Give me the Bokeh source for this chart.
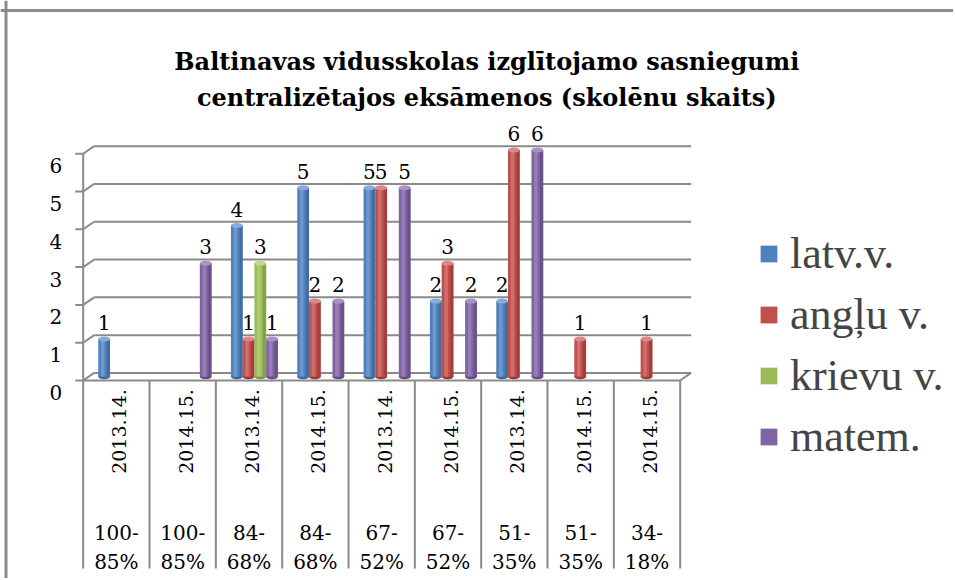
import math
from bokeh.plotting import figure
from bokeh.models import Range1d, ColumnDataSource, Legend, LegendItem, Span
from bokeh.core.properties import value
from bokeh.embed import file_html
from bokeh.resources import INLINE

# ---------------- data ----------------
title_lines = ["Baltinavas vidusskolas izglītojamo  sasniegumi",
               "centralizētajos  eksāmenos (skolēnu skaits)"]
years = ["2013.14.", "2014.15.", "2013.14.", "2014.15.", "2013.14.",
         "2014.15.", "2013.14.", "2014.15.", "2014.15."]
ranges = ["100-85%", "100-85%", "84-68%", "84-68%", "67-52%",
          "67-52%", "51-35%", "51-35%", "34-18%"]
series_names = ["latv.v.", "angļu v.", "krievu v.", "matem."]
latv = [1, 0, 4, 5, 5, 2, 2, 0, 0]
anglu = [0, 0, 1, 2, 5, 3, 6, 1, 1]
krievu = [0, 0, 3, 0, 0, 0, 0, 0, 0]
matem = [0, 3, 1, 2, 5, 2, 6, 0, 0]
y_ticks = [0, 1, 2, 3, 4, 5, 6]

series_values = [latv, anglu, krievu, matem]
base_colors = ["#4F81BD", "#C0504D", "#9BBB59", "#8064A2"]
light_colors = ["#86ACDB", "#DB8886", "#C0D78F", "#A892C4"]
dark_colors = ["#3B6699", "#9A3836", "#7A9840", "#62497F"]

# ---------------- geometry (style) ----------------
W, H = 953, 578
CAT_PX, UNIT_PX = 66.33, 37.8
X0_PAGE, Y0_PAGE = 82.7, 380.0


def dx(page_x):
    return (page_x - X0_PAGE) / CAT_PX


def dy(page_y):
    return (Y0_PAGE - page_y) / UNIT_PX


n = len(years)
ymax = max(y_ticks)
BAR_W = 0.177
BAR_DX = 0.081
BAR_DY = 0.10
DEPTH_X = 0.165
DEPTH_Y = 0.20
TICK = 0.12
SEP_BOTTOM = dy(568)
GRID = "#8A8A8A"
GLYPH_FONT = "DejaVu Serif"
LEGEND_FONT = "Liberation Serif"
LABEL_SIZE = "20px"

p = figure(width=W, height=H,
           x_range=Range1d(dx(0), dx(W)), y_range=Range1d(dy(H), dy(0)),
           x_axis_type=None, y_axis_type=None,
           output_backend="svg", toolbar_location=None, min_border=0)
p.grid.visible = False
p.outline_line_color = None

# outer chart border (top and left visible)
p.add_layout(Span(location=dy(10), dimension="width", line_color="#8C8C8C", line_width=3))
p.add_layout(Span(location=dx(5.5), dimension="height", line_color="#8C8C8C", line_width=3))

# ---------------- walls, grid, axis ----------------
gx, gy = [], []
for t in y_ticks:
    gx.append([DEPTH_X, n + DEPTH_X]); gy.append([t + DEPTH_Y, t + DEPTH_Y])   # back grid line
    gx.append([0, DEPTH_X]); gy.append([t, t + DEPTH_Y])                        # side diagonal
    gx.append([-TICK, 0]); gy.append([t, t])                                     # tick mark
gx.append([0, 0]); gy.append([0, ymax])                                          # front value axis
gx.append([0, n]); gy.append([0, 0])                                             # front floor edge
gx.append([n, n + DEPTH_X]); gy.append([0, DEPTH_Y])                             # right floor diagonal
for i in range(n + 1):
    gx.append([i, i]); gy.append([0, SEP_BOTTOM])                                # category separators
p.multi_line(gx, gy, line_color=GRID, line_width=2)

# y tick labels
p.text(x=[0] * len(y_ticks), y=y_ticks, text=[str(t) for t in y_ticks],
       x_offset=-21, y_offset=12, text_align="right", text_baseline="alphabetic",
       text_font=value(GLYPH_FONT), text_font_size=LABEL_SIZE, text_color="black")

# ---------------- bars (cylinders) ----------------
legend_items = []
for k, (name, vals) in enumerate(zip(series_names, series_values)):
    xs = [i + 0.5 + (k - 1.5) * BAR_W + BAR_DX for i, v in enumerate(vals) if v > 0]
    vs = [v for v in vals if v > 0]
    src = ColumnDataSource(dict(x=xs, top=[v + BAR_DY for v in vs],
                                xl=[x - BAR_W * 0.12 for x in xs],
                                xr=[x + BAR_W * 0.36 for x in xs],
                                lab=[str(v) for v in vs]))
    p.ellipse(x="x", y=BAR_DY, width=BAR_W, height=5, height_units="screen", source=src,
              fill_color=dark_colors[k], line_color=None)
    r = p.vbar(x="x", width=BAR_W, bottom=BAR_DY, top="top", source=src,
               fill_color=base_colors[k], line_color=None)
    p.vbar(x="xl", width=BAR_W * 0.3, bottom=BAR_DY, top="top", source=src,
           fill_color=light_colors[k], line_color=None, fill_alpha=0.55)
    p.vbar(x="xr", width=BAR_W * 0.28, bottom=BAR_DY, top="top", source=src,
           fill_color=dark_colors[k], line_color=None, fill_alpha=0.7)
    p.ellipse(x="x", y="top", width=BAR_W, height=5, height_units="screen", source=src,
              fill_color=light_colors[k], line_color=None)
    p.text(x="x", y="top", text="lab", source=src, y_offset=-16.5,
           text_align="center", text_baseline="alphabetic",
           text_font=value(GLYPH_FONT), text_font_size=LABEL_SIZE, text_color="black")
    legend_items.append(LegendItem(label=name, renderers=[r]))

# ---------------- category labels ----------------
cx = [i + 0.5 for i in range(n)]
p.text(x=cx, y=[dy(431)] * n, text=years, angle=math.pi / 2, x_offset=3,
       text_align="center", text_baseline="middle",
       text_font=value(GLYPH_FONT), text_font_size="19px", text_color="black")
p.text(x=cx, y=[dy(531.7)] * n, text=[r.split("-")[0] + "-" for r in ranges],
       text_align="center", text_baseline="alphabetic",
       text_font=value(GLYPH_FONT), text_font_size=LABEL_SIZE, text_color="black")
p.text(x=cx, y=[dy(561.7)] * n, text=[r.split("-")[1] for r in ranges],
       text_align="center", text_baseline="alphabetic",
       text_font=value(GLYPH_FONT), text_font_size=LABEL_SIZE, text_color="black")

# ---------------- title ----------------
tx = dx(490.5)
p.text(x=[tx, tx], y=[dy(61), dy(97)], text=title_lines,
       text_align="center", text_baseline="alphabetic",
       text_font=value(GLYPH_FONT), text_font_style="bold", text_font_size="24px",
       text_color="black")

# ---------------- legend ----------------
legend = Legend(items=legend_items, location=(758, 116), orientation="vertical",
                glyph_width=21, glyph_height=21, label_standoff=11,
                label_text_font=LEGEND_FONT, label_text_font_size="44px",
                label_height=48, spacing=10, padding=0, margin=0,
                border_line_color=None, background_fill_alpha=0)
p.add_layout(legend)

open("out.html", "w").write(file_html(p, INLINE))
